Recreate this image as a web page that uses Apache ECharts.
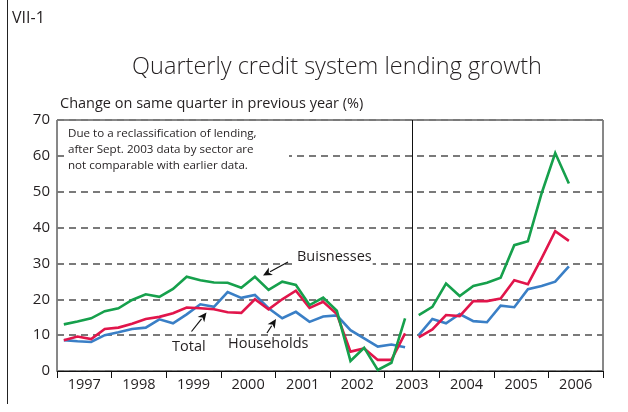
<!DOCTYPE html>
<html>
<head>
<meta charset="utf-8">
<script src="https://cdn.jsdelivr.net/npm/echarts@6/dist/echarts.min.js"></script>
<style>
html,body{margin:0;padding:0;background:#fff;}
#chart{width:628px;height:412px;}
</style>
</head>
<body>
<div id="chart"></div>
<script>
// Year labels (category axis) and quarters
var years = ['1997','1998','1999','2000','2001','2002','2003','2004','2005','2006'];
var quartersPerYear = 4;
var yTicks = [0,10,20,30,40,50,60,70];

// 1997Q1 .. 2003Q2 (old classification)
var businessesBefore = [13.0,13.8,14.7,16.7,17.5,19.8,21.4,20.7,22.9,26.3,25.3,24.7,24.6,23.2,26.3,22.6,24.9,24.0,18.4,20.5,16.8,2.8,6.5,0.3,2.3,14.7];
var totalBefore      = [8.6,9.6,8.9,11.7,12.1,13.2,14.5,15.1,16.1,17.7,17.5,17.2,16.4,16.2,20.0,17.2,20.0,22.4,17.6,19.3,15.9,5.4,6.3,3.1,3.1,10.5];
var householdsBefore = [8.6,8.3,8.1,10.0,10.8,11.7,12.1,14.4,13.3,15.8,18.6,17.9,22.0,20.4,21.2,17.5,14.7,16.5,13.7,15.2,15.5,11.4,9.1,6.8,7.4,6.6];
// 2003Q3 .. 2006Q2 (new classification)
var businessesAfter  = [15.6,17.9,24.4,20.9,23.7,24.6,26.0,35.1,36.2,49.5,60.8,52.3];
var totalAfter       = [9.4,11.6,15.6,15.3,19.5,19.5,20.2,25.3,24.2,31.4,39.0,36.3];
var householdsAfter  = [10.0,14.5,13.3,15.9,13.9,13.6,18.2,17.8,22.8,23.7,24.9,29.2];

var breakIndex = businessesBefore.length; // quarters before the reclassification
var nQuarters = years.length * quartersPerYear;

function toXY(arr, offset){
  return arr.map(function(v,k){ return [offset + k + 0.5, v]; });
}

var GREEN = '#16a04c', RED = '#e1154b', BLUE = '#3a7fc6';
var FONT = 'Open Sans';
var TXT = '#231f20';

function lineSeries(name, arr, offset, color, extra){
  var s = {
    name: name, type: 'line', xAxisIndex: 1, yAxisIndex: 0,
    data: toXY(arr, offset), symbol: 'none', smooth: false,
    lineStyle: {color: color, width: 2.6, join: 'miter'},
    itemStyle: {color: color}, silent: true, animation: false, z: 3
  };
  if (extra) for (var k in extra) s[k] = extra[k];
  return s;
}

function arrow(x1, y1, x2, y2){
  // tail (x1,y1) -> head (x2,y2)
  var dx = x2 - x1, dy = y2 - y1, L = Math.sqrt(dx*dx + dy*dy);
  var ux = dx / L, uy = dy / L, hl = 9, hw = 4.2;
  var bx = x2 - ux*hl, by = y2 - uy*hl;
  return [
    {type:'line', shape:{x1:x1,y1:y1,x2:bx+ux*1,y2:by+uy*1}, style:{stroke:'#111', lineWidth:1.2}, z:10},
    {type:'polygon', shape:{points:[[x2,y2],[bx - uy*hw, by + ux*hw],[bx + ux*2.5, by + uy*2.5],[bx + uy*hw, by - ux*hw]]}, style:{fill:'#111'}, z:10}
  ];
}

var chart = echarts.init(document.getElementById('chart'), null, {renderer:'canvas'});

var graphics = [
  {type:'line', shape:{x1:7.5,y1:0,x2:7.5,y2:404}, style:{stroke:'#222', lineWidth:1}},
  {type:'text', x:12, y:18, style:{text:'VII-1', font:'16px "' + FONT + '"', fill:TXT, textVerticalAlign:'middle'}},
  {type:'text', x:337, y:67, style:{text:'Quarterly credit system lending growth', font:'300 23.5px "' + FONT + '"', fill:TXT, textAlign:'center', textVerticalAlign:'middle'}},
  {type:'text', x:60, y:104, style:{text:'Change on same quarter in previous year (%)', font:'14.5px "' + FONT + '"', fill:TXT, textVerticalAlign:'middle'}},
  {type:'rect', shape:{x:64, y:124, width:225, height:50}, style:{fill:'#fff'}, z:5},
  {type:'text', left:68, top:126, z:6, style:{text:'Due to a reclassification of lending,\nafter Sept. 2003 data by sector are\nnot comparable with earlier data.', font:'11.6px "' + FONT + '"', lineHeight:16, fill:TXT}},
  {type:'text', x:296, y:257, z:6, style:{text:'Buisnesses', font:'14.5px "' + FONT + '"', fill:TXT, textVerticalAlign:'middle', backgroundColor:'#fff', padding:[0,1,1,1]}},
  {type:'text', x:228, y:344, z:6, style:{text:'Households', font:'14.5px "' + FONT + '"', fill:TXT, textVerticalAlign:'middle'}},
  {type:'text', x:172, y:347, z:6, style:{text:'Total', font:'14.5px "' + FONT + '"', fill:TXT, textVerticalAlign:'middle'}}
].concat(arrow(288, 262, 263, 275.5))
 .concat(arrow(191.5, 331.5, 206.5, 312.5))
 .concat(arrow(267, 333, 276, 319));

var option = {
  backgroundColor: '#fff',
  animation: false,
  textStyle: {fontFamily: FONT},
  grid: {left:57, right:25, top:120, bottom:41, show:true, borderColor:'#111', borderWidth:1, backgroundColor:'transparent'},
  xAxis: [
    {type:'category', data: years, position:'bottom', boundaryGap:true,
     axisLine:{show:true, lineStyle:{color:'#111', width:1}},
     axisTick:{show:true, length:7, lineStyle:{color:'#111', width:1}, alignWithLabel:false},
     axisLabel:{color:TXT, fontSize:14.5, fontFamily:FONT, margin:6},
     splitLine:{show:false}},
    {type:'value', min:0, max:nQuarters, show:false, splitLine:{show:false}}
  ],
  yAxis: [
    {type:'value', min:yTicks[0], max:yTicks[yTicks.length-1], interval:10,
     axisLine:{show:false}, axisTick:{show:false},
     axisLabel:{color:TXT, fontSize:15, fontFamily:FONT, margin:7},
     splitLine:{show:true, lineStyle:{color:'#7a7a7a', width:1.8, type:[7,5]}}}
  ],
  series: [
    lineSeries('Households', householdsBefore, 0, BLUE),
    lineSeries('Total', totalBefore, 0, RED),
    lineSeries('Businesses', businessesBefore, 0, GREEN),
    lineSeries('Households (new)', householdsAfter, breakIndex, BLUE),
    lineSeries('Total (new)', totalAfter, breakIndex, RED),
    lineSeries('Businesses (new)', businessesAfter, breakIndex, GREEN, {
      markLine: {symbol:'none', silent:true, label:{show:false}, animation:false,
        lineStyle:{color:'#111', width:1, type:'solid'},
        data:[{xAxis: breakIndex}]}
    })
  ],
  graphic: graphics
};
chart.setOption(option);
</script>
</body>
</html>
